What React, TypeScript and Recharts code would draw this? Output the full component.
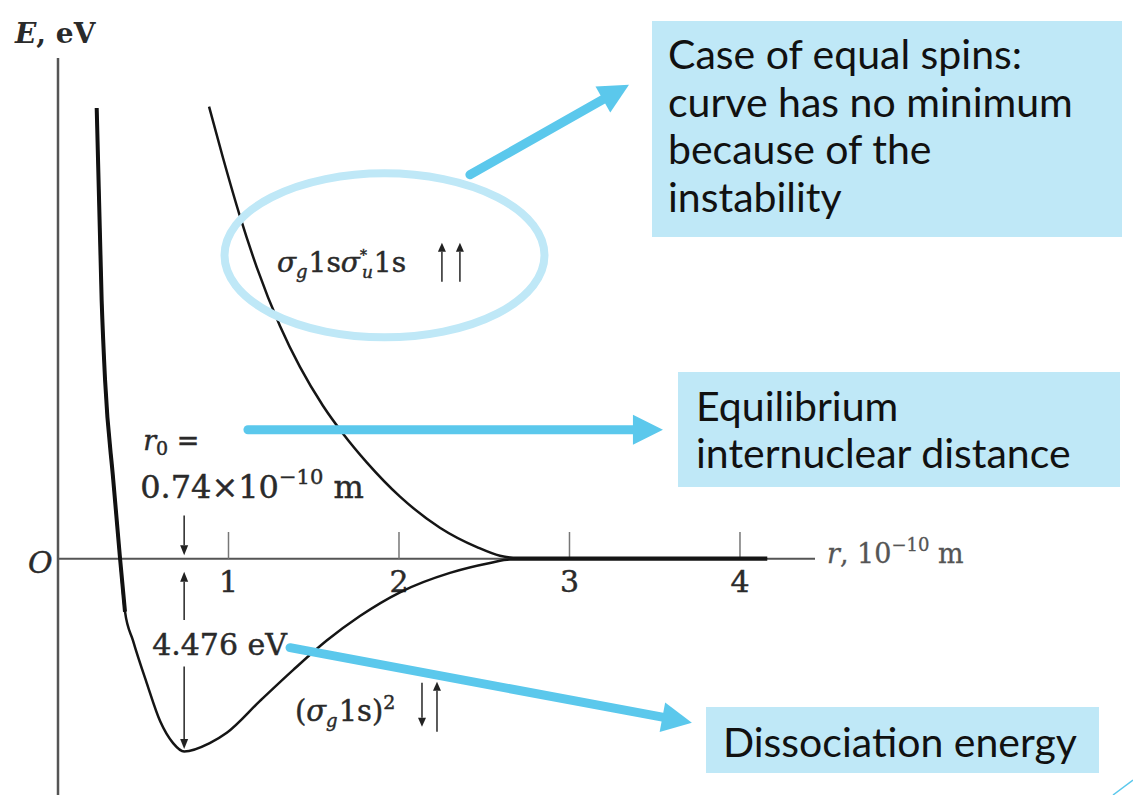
import { LineChart, Line, XAxis, YAxis, ReferenceLine, ReferenceDot } from "recharts";

// r in 10^-10 m, E in eV — H2 potential curves
const bondingR = [0.227, 0.256, 0.276, 0.324, 0.364, 0.393, 0.44, 0.52, 0.6, 0.675, 0.74, 0.89, 0.99, 1.185, 1.38, 1.576, 1.771, 2.006, 2.299, 2.534, 2.65, 3.2, 4.16];
const bondingE = [10.46, 6.0, 4.15, 1.83, 0, -1.23, -1.9, -2.88, -3.78, -4.28, -4.476, -4.28, -4.04, -3.3, -2.58, -1.9, -1.33, -0.78, -0.33, -0.1, -0.02, -0.02, -0.02];

const antiR = [0.886, 0.968, 1.067, 1.167, 1.302, 1.419, 1.554, 1.672, 1.812, 2.006, 2.24, 2.457, 2.592, 2.7, 3.2, 4.16];
const antiE = [10.49, 9.3, 7.95, 6.75, 5.4, 4.45, 3.55, 2.9, 2.23, 1.44, 0.72, 0.27, 0.07, 0.02, 0.02, 0.02];

const xTicks = [1, 2, 3, 4];
const r0 = 0.74;
const dissociation = 4.476;

const bonding = bondingR.map((r, i) => ({ r, E: bondingE[i] }));
const antibonding = antiR.map((r, i) => ({ r, E: antiE[i] }));

const W = 1133;
const H = 795;
const SERIF = "'DejaVu Serif', 'Liberation Serif', serif";
const SANS = "Lato, 'Open Sans', sans-serif";
const INK = "#2a2a2a";
const BLUE = "#5bc8ec";
const PALE = "#bfe8f7";

// slightly heavier serif text, closer to the printed figure
const inkText = { fontFamily: SERIF, fill: INK, stroke: INK, strokeWidth: 0.45 };

function calloutArrow(props: any) {
  const { x1, y1, x2, y2 } = props;
  const dx = x2 - x1;
  const dy = y2 - y1;
  const len = Math.hypot(dx, dy);
  const ux = dx / len;
  const uy = dy / len;
  const head = 30;
  const half = 15;
  const bx = x2 - ux * head;
  const by = y2 - uy * head;
  return (
    <g>
      <line x1={x1} y1={y1} x2={bx} y2={by} stroke={BLUE} strokeWidth={9} strokeLinecap="round" />
      <polygon
        points={`${x2},${y2} ${bx - uy * half},${by + ux * half} ${bx + uy * half},${by - ux * half}`}
        fill={BLUE}
      />
    </g>
  );
}

function thinArrow(props: any) {
  const { x1, y1, x2, y2 } = props;
  const dir = y2 > y1 ? 1 : -1;
  const by = y2 - dir * 10;
  return (
    <g>
      <line x1={x1} y1={y1} x2={x2} y2={by} stroke="#333" strokeWidth={1.6} />
      <polygon points={`${x2},${y2} ${x2 - 4},${by} ${x2 + 4},${by}`} fill="#222" />
    </g>
  );
}

function tickShape(label: string) {
  return (props: any) => {
    const { x1, y1, y2 } = props;
    const base = Math.max(y1, y2);
    const top = Math.min(y1, y2);
    return (
      <g>
        <line x1={x1} y1={base} x2={x1} y2={top} stroke="#777" strokeWidth={1.5} />
        <text x={x1} y={base + 33} textAnchor="middle" fontSize={30} {...inkText}>
          {label}
        </text>
      </g>
    );
  };
}

// small spin arrow, up or down, with a filled head
function spin(x: number, yTop: number, yBottom: number, up: boolean) {
  const tip = up ? yTop : yBottom;
  const base = up ? yTop + 9 : yBottom - 9;
  return (
    <g key={`${x}-${up}`}>
      <line x1={x} y1={up ? yBottom : yTop} x2={x} y2={base} stroke="#333" strokeWidth={1.6} />
      <polygon points={`${x},${tip} ${x - 4},${base} ${x + 4},${base}`} fill="#222" />
    </g>
  );
}

function ellipseShape(props: any) {
  return <ellipse cx={props.cx} cy={props.cy} rx={160} ry={82} fill="none" stroke={PALE} strokeWidth={8} />;
}

function energyAxisTitle(props: any) {
  return (
    <text x={props.cx - 43} y={props.cy - 15} fontFamily={SERIF} fontSize={28} fontWeight="bold" fill={INK}>
      <tspan fontStyle="italic">E</tspan>, eV
    </text>
  );
}

function originLabel(props: any) {
  return (
    <text x={props.cx - 30} y={props.cy + 14} fontSize={30} fontStyle="italic" {...inkText}>
      O
    </text>
  );
}

function distanceAxisTitle(props: any) {
  return (
    <text x={props.cx + 12} y={props.cy + 4} fontFamily={SERIF} fontSize={27} fill="#555" stroke="#555" strokeWidth={0.3}>
      <tspan fontStyle="italic">r</tspan>, 10
      <tspan fontSize={18} dy={-12}>−10</tspan>
      <tspan dy={12}> m</tspan>
    </text>
  );
}

function equilibriumLabels(props: any) {
  const { cx, cy } = props;
  return (
    <g>
      <text x={cx - 41} y={cy - 109} fontSize={27} {...inkText}>
        <tspan fontStyle="italic">r</tspan>
        <tspan fontSize={19} dy={5}>0</tspan>
        <tspan dy={-5}> =</tspan>
      </text>
      <text x={cx - 44} y={cy - 61} fontSize={32} {...inkText}>
        {r0.toFixed(2)}×10
        <tspan fontSize={21} dy={-14}>−10</tspan>
        <tspan dy={14}> m</tspan>
      </text>
      <text x={cx - 32} y={cy + 96} fontSize={30} {...inkText}>
        {dissociation} eV
      </text>
    </g>
  );
}

function antibondingLabel(props: any) {
  const { cx, cy } = props;
  return (
    <g>
      <text x={cx} y={cy} fontSize={28} {...inkText}>
        <tspan fontStyle="italic">σ</tspan>
        <tspan fontSize={18} dy={6} fontStyle="italic">g</tspan>
        <tspan dy={-6} dx={1}>1s</tspan>
        <tspan fontStyle="italic">σ</tspan>
        <tspan fontSize={14} dy={-12}>*</tspan>
        <tspan fontSize={17} dy={18} dx={-5} fontStyle="italic">u</tspan>
        <tspan dy={-6} dx={1}>1s</tspan>
      </text>
      {spin(cx + 165, cy - 29, cy + 10, true)}
      {spin(cx + 183, cy - 29, cy + 10, true)}
    </g>
  );
}

function bondingLabel(props: any) {
  const { cx, cy } = props;
  return (
    <g>
      <text x={cx} y={cy} fontSize={29} {...inkText}>
        (<tspan fontStyle="italic">σ</tspan>
        <tspan fontSize={18} dy={6} fontStyle="italic">g</tspan>
        <tspan dy={-6} dx={1}>1s)</tspan>
        <tspan fontSize={19} dy={-12}>2</tspan>
      </text>
      {spin(cx + 127, cy - 38, cy + 6, false)}
      {spin(cx + 142, cy - 39, cy + 11, true)}
    </g>
  );
}

const boxes = [
  { x: 652, y: 21, w: 470, h: 216, tx: 668, lines: ["Case of equal spins:", "curve has no minimum", "because of the", "instability"], first: 69, step: 47.6 },
  { x: 678, y: 372, w: 442, h: 115, tx: 696, lines: ["Equilibrium", "internuclear distance"], first: 421, step: 47 },
  { x: 706, y: 707, w: 393, h: 66, tx: 723, lines: ["Dissociation energy"], first: 757, step: 0 },
];

export default function App() {
  return (
    <div style={{ position: "absolute", left: 0, top: 0, width: W, height: H, overflow: "hidden", background: "#fff" }}>
      <LineChart width={W} height={800} margin={{ top: 58, left: 58, right: 318, bottom: 0 }}>
        <XAxis type="number" dataKey="r" domain={[0, 4.44]} allowDataOverflow hide />
        <YAxis type="number" dataKey="E" domain={[-5.6, 11.62]} allowDataOverflow hide />

        <ReferenceLine x={0} stroke="#555" strokeWidth={2.5} />
        <ReferenceLine y={0} stroke="#555" strokeWidth={2} />
        {xTicks.map((t) => (
          <ReferenceLine
            key={t}
            segment={[{ x: t, y: 0 }, { x: t, y: 0.62 }]}
            shape={tickShape(String(t))}
          />
        ))}

        <ReferenceDot x={0} y={11.62} ifOverflow="visible" shape={energyAxisTitle} />
        <ReferenceDot x={0} y={0} ifOverflow="visible" shape={originLabel} />
        <ReferenceDot x={4.44} y={0} ifOverflow="visible" shape={distanceAxisTitle} />

        <ReferenceLine segment={[{ x: r0, y: 1.0 }, { x: r0, y: 0.08 }]} shape={thinArrow} />
        <ReferenceLine segment={[{ x: r0, y: -1.42 }, { x: r0, y: -0.3 }]} shape={thinArrow} />
        <ReferenceLine segment={[{ x: r0, y: -2.5 }, { x: r0, y: -dissociation + 0.06 }]} shape={thinArrow} />
        <ReferenceDot x={r0} y={0} ifOverflow="visible" shape={equilibriumLabels} />

        <Line data={antibonding} dataKey="E" type="monotone" stroke="#151515" strokeWidth={2.5} dot={false} isAnimationActive={false} />
        <Line data={bonding} dataKey="E" type="monotone" stroke="#151515" strokeWidth={2.5} dot={false} isAnimationActive={false} />
        <Line data={bonding.slice(0, 6)} dataKey="E" type="monotone" stroke="#111" strokeWidth={4} dot={false} isAnimationActive={false} />

        <ReferenceDot x={1.284} y={6.66} ifOverflow="visible" shape={antibondingLabel} />
        <ReferenceDot x={1.39} y={-3.76} ifOverflow="visible" shape={bondingLabel} />

        <ReferenceDot x={1.915} y={7.04} ifOverflow="visible" shape={ellipseShape} />
        <ReferenceLine segment={[{ x: 2.416, y: 8.91 }, { x: 3.349, y: 11.0 }]} shape={calloutArrow} />
        <ReferenceLine segment={[{ x: 1.114, y: 2.993 }, { x: 3.548, y: 2.993 }]} shape={calloutArrow} />
        <ReferenceLine segment={[{ x: 1.361, y: -2.065 }, { x: 3.718, y: -3.805 }]} shape={calloutArrow} />
      </LineChart>

      <svg width={W} height={H} style={{ position: "absolute", left: 0, top: 0, pointerEvents: "none" }}>
        {boxes.map((b, i) => (
          <g key={i}>
            <rect x={b.x} y={b.y} width={b.w} height={b.h} fill={PALE} />
            {b.lines.map((ln, j) => (
              <text key={j} x={b.tx} y={b.first + j * b.step} fontFamily={SANS} fontSize={41} fill="#111">
                {ln}
              </text>
            ))}
          </g>
        ))}
        <line x1={1113} y1={795} x2={1133} y2={780} stroke={BLUE} strokeWidth={1.5} />
      </svg>
    </div>
  );
}
